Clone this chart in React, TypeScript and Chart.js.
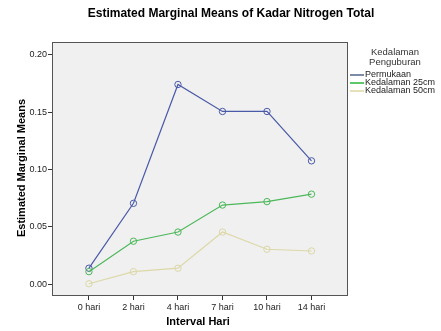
import React, { useEffect, useRef } from "react";
import { Chart, registerables } from "chart.js";

Chart.register(...registerables);

const categories = ["0 hari", "2 hari", "4 hari", "7 hari", "10 hari", "14 hari"];
const permukaan = [0.014, 0.0705, 0.174, 0.1505, 0.1505, 0.1075];
const kedalaman25 = [0.011, 0.0375, 0.0455, 0.069, 0.072, 0.0785];
const kedalaman50 = [0.0005, 0.011, 0.014, 0.0455, 0.0305, 0.029];
const yTicks = [0, 0.05, 0.1, 0.15, 0.2];
const seriesNames = ["Permukaan", "Kedalaman 25cm", "Kedalaman 50cm"];
const seriesColors = ["#4a5aa8", "#4cb85a", "#dcd8a8"];
const legendColors = ["#7d8ca6", "#5cc86a", "#e8e0b8"];

const FONT = "'Liberation Sans', Arial, sans-serif";

export default function App() {
  const ref = useRef<HTMLCanvasElement | null>(null);

  useEffect(() => {
    document.body.style.margin = "0";
    const canvas = ref.current!;
    const decor = {
      id: "decor",
      beforeDraw(chart: any) {
        const { ctx, chartArea: a } = chart;
        ctx.save();
        ctx.fillStyle = "#f0f0f0";
        ctx.fillRect(a.left, a.top, a.right - a.left, a.bottom - a.top);
        ctx.restore();
      },
      afterDraw(chart: any) {
        const { ctx, chartArea: a } = chart;
        ctx.save();
        ctx.strokeStyle = "#555";
        ctx.lineWidth = 1;
        ctx.strokeRect(a.left + 0.5, a.top + 0.5, a.right - a.left - 1, a.bottom - a.top - 1);
        ctx.fillStyle = "#000";
        ctx.textAlign = "center";
        ctx.textBaseline = "middle";
        ctx.font = `bold 12px ${FONT}`;
        ctx.fillText("Estimated Marginal Means of Kadar Nitrogen Total", 231, 14);
        ctx.font = `bold 11px ${FONT}`;
        ctx.fillText("Interval Hari", 198, 322);
        ctx.save();
        ctx.translate(22, 168);
        ctx.rotate(-Math.PI / 2);
        ctx.fillText("Estimated Marginal Means", 0, 0);
        ctx.restore();
        // legend
        ctx.fillStyle = "#333";
        ctx.font = `9.5px ${FONT}`;
        ctx.fillText("Kedalaman", 395, 52);
        ctx.fillText("Penguburan", 395, 62);
        ctx.font = `9px ${FONT}`;
        ctx.textAlign = "left";
        const ys = [75, 83, 91];
        seriesNames.forEach((n, i) => {
          ctx.strokeStyle = legendColors[i];
          ctx.lineWidth = 2;
          ctx.beginPath();
          ctx.moveTo(350, ys[i]);
          ctx.lineTo(364, ys[i]);
          ctx.stroke();
          ctx.fillStyle = "#222";
          ctx.fillText(n, 365, ys[i]);
        });
        ctx.restore();
      },
    };

    const mk = (data: number[], i: number) => ({
      label: seriesNames[i],
      data: data.map((v, k) => ({ x: k, y: v })),
      borderColor: seriesColors[i],
      backgroundColor: "rgba(0,0,0,0)",
      borderWidth: 1.2,
      pointRadius: 3.2,
      pointBorderWidth: 1,
      pointBorderColor: seriesColors[i],
      pointBackgroundColor: "rgba(0,0,0,0)",
      tension: 0,
    });

    const chart = new Chart(canvas, {
      type: "line",
      data: {
        datasets: [mk(kedalaman50, 2), mk(kedalaman25, 1), mk(permukaan, 0)],
      },
      plugins: [decor],
      options: {
        animation: false,
        responsive: false,
        layout: { padding: { left: 0, top: 42, right: 93, bottom: 0 } },
        plugins: { legend: { display: false }, tooltip: { enabled: false }, title: { display: false } },
        scales: {
          x: {
            type: "linear",
            min: -0.83,
            max: 5.82,
            afterBuildTicks: (s: any) => {
              s.ticks = categories.map((_, k) => ({ value: k }));
            },
            afterFit: (s: any) => {
              s.height = 35;
            },
            border: { display: false },
            grid: { drawOnChartArea: false, drawTicks: true, tickLength: 4, tickColor: "#333" },
            ticks: {
              autoSkip: false,
              maxRotation: 0,
              padding: 2,
              color: "#222",
              font: { family: FONT, size: 9 },
              callback: (v: any) => categories[Math.round(Number(v))] ?? "",
            },
          },
          y: {
            type: "linear",
            min: -0.0102,
            max: 0.211,
            afterBuildTicks: (s: any) => {
              s.ticks = yTicks.map((v) => ({ value: v }));
            },
            afterFit: (s: any) => {
              s.width = 52;
            },
            border: { display: false },
            grid: { drawOnChartArea: false, drawTicks: true, tickLength: 4, tickColor: "#333" },
            ticks: {
              padding: 1,
              color: "#222",
              font: { family: FONT, size: 9 },
              callback: (v: any) => Number(v).toFixed(2),
            },
          },
        },
      },
    });
    return () => chart.destroy();
  }, []);

  return (
    <div style={{ position: "fixed", left: 0, top: 0, width: 441, height: 331, background: "#fff" }}>
      <canvas ref={ref} width={441} height={331} style={{ width: 441, height: 331 }} />
    </div>
  );
}
